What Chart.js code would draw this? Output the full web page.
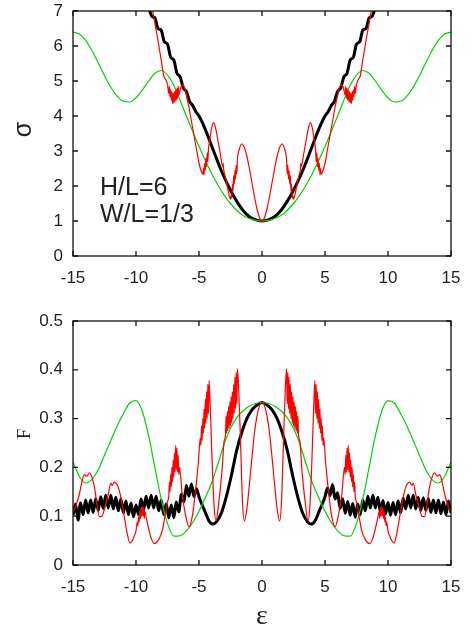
<!DOCTYPE html>
<html>
<head>
<meta charset="utf-8">
<script src="https://cdn.jsdelivr.net/npm/chart.js@4"></script>
<style>
  html, body { margin: 0; padding: 0; background: #fff; }
  #wrap { position: relative; width: 471px; height: 628px; }
  canvas { position: absolute; left: 0; }
  #sigmaChart { top: 0; }
  #forceChart { top: 300px; }
</style>
</head>
<body>
<div id="wrap">
  <canvas id="sigmaChart" width="471" height="300"></canvas>
  <canvas id="forceChart" width="471" height="328"></canvas>
</div>
<script>
// tick labels
const epsTicks = [-15, -10, -5, 0, 5, 10, 15];
const sigmaTicks = [0, 1, 2, 3, 4, 5, 6, 7];
const forceTicks = [0, 0.1, 0.2, 0.3, 0.4, 0.5];

// sigma vs epsilon, [eps, sigma]
const sigmaGreen = [
  [-15,6.40],[-14.5,6.34],[-14,6.16],[-13.5,5.87],[-13,5.52],[-12.5,5.15],[-12,4.82],[-11.5,4.57],
  [-11,4.42],[-10.5,4.40],[-10,4.52],[-9.5,4.74],[-9,5.00],[-8.5,5.22],[-8,5.30],[-7.5,5.17],
  [-7,4.88],[-6.5,4.45],[-6,4.00],[-5.5,3.56],[-5,3.13],[-4.5,2.73],[-4,2.36],[-3.5,2.03],
  [-3,1.74],[-2.5,1.50],[-2,1.30],[-1.5,1.16],[-1,1.07],[-0.5,1.02],[0,1.00],
  [0.5,1.02],[1,1.07],[1.5,1.16],[2,1.30],[2.5,1.50],[3,1.74],[3.5,2.03],[4,2.36],
  [4.5,2.73],[5,3.13],[5.5,3.56],[6,4.00],[6.5,4.45],[7,4.88],[7.5,5.17],[8,5.30],
  [8.5,5.22],[9,5.00],[9.5,4.74],[10,4.52],[10.5,4.40],[11,4.42],[11.5,4.57],[12,4.82],
  [12.5,5.15],[13,5.52],[13.5,5.87],[14,6.16],[14.5,6.34],[15,6.40]
];
const sigmaBlack = [
  [-9.5,7.50],[-9.25,7.20],[-9.0,7.10],[-8.75,6.85],[-8.5,6.80],[-8.25,6.50],[-8.0,6.45],[-7.75,6.12],
  [-7.5,6.05],[-7.25,5.68],[-7.0,5.60],[-6.75,5.22],[-6.5,5.12],[-6.25,4.80],[-6.0,4.70],[-5.75,4.42],
  [-5.5,4.30],[-5.25,4.12],[-5.0,4.00],[-4.5,3.62],[-4.0,3.15],[-3.5,2.68],[-3.0,2.25],[-2.5,1.88],
  [-2.0,1.56],[-1.5,1.30],[-1.0,1.12],[-0.5,1.03],[0,1.00],[0.5,1.03],[1.0,1.12],[1.5,1.30],
  [2.0,1.56],[2.5,1.88],[3.0,2.25],[3.5,2.68],[4.0,3.15],[4.5,3.62],[5.0,4.00],[5.25,4.12],
  [5.5,4.30],[5.75,4.42],[6.0,4.70],[6.25,4.80],[6.5,5.12],[6.75,5.22],[7.0,5.60],[7.25,5.68],
  [7.5,6.05],[7.75,6.12],[8.0,6.45],[8.25,6.50],[8.5,6.80],[8.75,6.85],[9.0,7.10],[9.25,7.20],[9.5,7.50]
];
const sigmaRed = [
  [-9.0,7.6],[-8.7,7.05],[-8.3,6.25],[-8.0,5.60],[-7.8,5.15],[-7.65,5.05],[-7.5,4.90],[-7.4,4.65],
  [-7.35,4.85],[-7.3,4.55],[-7.25,4.75],[-7.2,4.45],[-7.15,4.70],[-7.1,4.36],[-7.05,4.65],[-7.0,4.37],
  [-6.95,4.70],[-6.9,4.40],[-6.85,4.75],[-6.8,4.45],[-6.75,4.80],[-6.7,4.50],[-6.65,4.85],[-6.6,4.60],
  [-6.45,4.82],[-6.3,4.89],[-6.15,4.82],[-6.0,4.60],[-5.8,4.25],[-5.6,3.85],[-5.4,3.45],[-5.2,3.05],
  [-5.0,2.65],[-4.8,2.40],[-4.7,2.33],[-4.65,2.50],[-4.6,2.32],[-4.55,2.65],[-4.5,2.45],[-4.45,2.80],
  [-4.4,2.55],[-4.35,2.95],[-4.3,2.70],[-4.25,3.05],[-4.15,3.30],[-4.0,3.65],[-3.85,3.81],[-3.7,3.68],
  [-3.5,3.30],[-3.3,2.90],[-3.12,2.55],[-3.08,2.65],[-3.05,2.50],[-2.9,2.25],[-2.7,1.90],[-2.5,1.62],
  [-2.45,1.75],[-2.4,1.65],[-2.35,2.05],[-2.3,1.85],[-2.25,2.30],[-2.2,2.05],[-2.15,2.45],[-2.1,2.20],
  [-2.05,2.60],[-2.0,2.35],[-1.95,2.75],[-1.8,3.05],[-1.6,3.20],[-1.4,3.10],[-1.2,2.85],[-1.0,2.50],
  [-0.8,2.10],[-0.6,1.70],[-0.4,1.35],[-0.2,1.10],[0,1.00],
  [0.2,1.10],[0.4,1.35],[0.6,1.70],[0.8,2.10],[1.0,2.50],[1.2,2.85],[1.4,3.10],[1.6,3.20],
  [1.8,3.05],[1.95,2.75],[2.0,2.35],[2.05,2.60],[2.1,2.20],[2.15,2.45],[2.2,2.05],[2.25,2.30],
  [2.3,1.85],[2.35,2.05],[2.4,1.65],[2.45,1.75],[2.5,1.62],[2.7,1.90],[2.9,2.25],[3.05,2.50],
  [3.08,2.65],[3.12,2.55],[3.3,2.90],[3.5,3.30],[3.7,3.68],[3.85,3.81],[4.0,3.65],[4.15,3.30],
  [4.25,3.05],[4.3,2.70],[4.35,2.95],[4.4,2.55],[4.45,2.80],[4.5,2.45],[4.55,2.65],[4.6,2.32],
  [4.65,2.50],[4.7,2.33],[4.8,2.40],[5.0,2.65],[5.2,3.05],[5.4,3.45],[5.6,3.85],[5.8,4.25],
  [6.0,4.60],[6.15,4.82],[6.3,4.89],[6.45,4.82],[6.6,4.60],[6.65,4.85],[6.7,4.50],[6.75,4.80],
  [6.8,4.45],[6.85,4.75],[6.9,4.40],[6.95,4.70],[7.0,4.37],[7.05,4.65],[7.1,4.36],[7.15,4.70],
  [7.2,4.45],[7.25,4.75],[7.3,4.55],[7.35,4.85],[7.4,4.65],[7.5,4.90],[7.65,5.05],[7.8,5.15],
  [8.0,5.60],[8.3,6.25],[8.7,7.05],[9.0,7.6]
];

// F vs epsilon, [eps, F]
const forceGreen = [
  [-15,0.211],[-14.5,0.182],[-14,0.168],[-13.5,0.175],[-13,0.195],[-12.5,0.225],[-12,0.255],[-11.5,0.285],
  [-11,0.310],[-10.5,0.332],[-10,0.337],[-9.5,0.315],[-9,0.265],[-8.5,0.200],[-8,0.135],[-7.5,0.085],
  [-7,0.059],[-6.5,0.060],[-6,0.070],[-5.5,0.087],[-5,0.110],[-4.5,0.138],[-4,0.168],[-3.5,0.207],
  [-3,0.248],[-2.5,0.280],[-2,0.302],[-1.5,0.316],[-1,0.326],[-0.5,0.331],[0,0.333],
  [0.5,0.331],[1,0.326],[1.5,0.316],[2,0.302],[2.5,0.280],[3,0.248],[3.5,0.207],[4,0.168],
  [4.5,0.138],[5,0.110],[5.5,0.087],[6,0.070],[6.5,0.060],[7,0.059],[7.5,0.085],[8,0.135],
  [8.5,0.200],[9,0.265],[9.5,0.315],[10,0.337],[10.5,0.332],[11,0.310],[11.5,0.285],[12,0.255],
  [12.5,0.225],[13,0.195],[13.5,0.175],[14,0.168],[14.5,0.182],[15,0.211]
];
const forceBlack = [
  [-15.0,0.102],[-14.8,0.125],[-14.6,0.092],[-14.4,0.127],[-14.2,0.103],[-14.0,0.133],[-13.8,0.107],[-13.6,0.133],
  [-13.4,0.108],[-13.2,0.136],[-13.0,0.112],[-12.8,0.140],[-12.6,0.116],[-12.4,0.143],[-12.2,0.117],[-12.0,0.143],
  [-11.8,0.115],[-11.6,0.139],[-11.4,0.111],[-11.2,0.135],[-11.0,0.107],[-10.8,0.131],[-10.6,0.103],[-10.4,0.127],
  [-10.2,0.099],[-10.0,0.123],[-9.8,0.103],[-9.6,0.135],[-9.4,0.113],[-9.2,0.141],[-9.0,0.117],[-8.8,0.143],
  [-8.6,0.117],[-8.4,0.141],[-8.2,0.111],[-8.0,0.133],[-7.8,0.103],[-7.6,0.125],[-7.4,0.097],[-7.2,0.123],
  [-7.0,0.097],[-6.8,0.129],[-6.6,0.109],[-6.4,0.145],[-6.2,0.129],[-6.0,0.163],[-5.8,0.141],[-5.6,0.166],
  [-5.4,0.140],[-5.2,0.156],[-5.0,0.140],[-4.8,0.126],[-4.5,0.108],[-4.2,0.090],[-3.9,0.084],[-3.6,0.089],
  [-3.2,0.108],[-2.8,0.143],[-2.4,0.187],[-2.0,0.236],[-1.6,0.272],[-1.2,0.300],[-0.8,0.318],[-0.4,0.328],
  [0,0.333],
  [0.4,0.328],[0.8,0.318],[1.2,0.300],[1.6,0.272],[2.0,0.236],[2.4,0.187],[2.8,0.143],[3.2,0.108],
  [3.6,0.089],[3.9,0.084],[4.2,0.090],[4.5,0.108],[4.8,0.126],[5.0,0.140],[5.2,0.158],[5.4,0.142],
  [5.6,0.165],[5.8,0.135],[6.0,0.148],[6.2,0.116],[6.4,0.136],[6.6,0.106],[6.8,0.130],[7.0,0.102],
  [7.2,0.126],[7.4,0.098],[7.6,0.125],[7.8,0.103],[8.0,0.133],[8.2,0.111],[8.4,0.141],[8.6,0.117],
  [8.8,0.143],[9.0,0.117],[9.2,0.139],[9.4,0.109],[9.6,0.132],[9.8,0.104],[10.0,0.128],[10.2,0.102],
  [10.4,0.128],[10.6,0.103],[10.8,0.131],[11.0,0.107],[11.2,0.137],[11.4,0.115],[11.6,0.143],[11.8,0.117],
  [12.0,0.143],[12.2,0.115],[12.4,0.139],[12.6,0.112],[12.8,0.138],[13.0,0.112],[13.2,0.136],[13.4,0.108],
  [13.6,0.133],[13.8,0.107],[14.0,0.133],[14.2,0.105],[14.4,0.129],[14.6,0.103],[14.8,0.131],[15.0,0.107]
];
const forceRed = [
  [-15.0,0.110],[-14.8,0.119],[-14.5,0.145],[-14.25,0.175],[-14.1,0.185],[-13.9,0.182],[-13.7,0.189],[-13.5,0.180],
  [-13.3,0.160],[-13.1,0.125],[-12.9,0.099],[-12.7,0.100],[-12.5,0.115],[-12.2,0.145],[-12.0,0.168],[-11.9,0.163],
  [-11.72,0.170],[-11.5,0.165],[-11.3,0.150],[-11.0,0.110],[-10.7,0.065],[-10.48,0.045],[-10.3,0.050],[-10.2,0.055],
  [-10.1,0.062],[-10.0,0.070],[-9.9,0.088],[-9.85,0.080],[-9.8,0.098],[-9.75,0.088],[-9.7,0.110],[-9.65,0.095],
  [-9.6,0.115],[-9.55,0.100],[-9.5,0.120],[-9.45,0.100],[-9.4,0.118],[-9.35,0.095],[-9.3,0.110],[-9.2,0.098],
  [-9.0,0.075],[-8.8,0.055],[-8.55,0.044],[-8.2,0.052],[-7.9,0.072],[-7.7,0.100],[-7.5,0.130],[-7.4,0.140],
  [-7.35,0.170],[-7.3,0.150],[-7.25,0.185],[-7.2,0.160],[-7.15,0.200],[-7.1,0.170],[-7.05,0.215],[-7.0,0.180],
  [-6.95,0.230],[-6.9,0.190],[-6.85,0.245],[-6.8,0.195],[-6.75,0.240],[-6.7,0.190],[-6.65,0.225],[-6.6,0.185],
  [-6.55,0.200],[-6.33,0.144],[-6.05,0.100],[-5.8,0.078],[-5.53,0.100],[-5.27,0.153],[-5.05,0.210],[-4.9,0.260],
  [-4.85,0.245],[-4.8,0.285],[-4.75,0.255],[-4.7,0.300],[-4.65,0.270],[-4.6,0.320],[-4.55,0.280],[-4.5,0.340],
  [-4.45,0.290],[-4.4,0.355],[-4.35,0.300],[-4.3,0.370],[-4.25,0.310],[-4.2,0.378],[-4.1,0.320],[-3.97,0.221],
  [-3.8,0.120],[-3.65,0.091],[-3.44,0.126],[-3.17,0.194],[-3.0,0.255],[-2.9,0.265],[-2.85,0.305],[-2.8,0.270],
  [-2.75,0.315],[-2.7,0.275],[-2.65,0.325],[-2.6,0.280],[-2.55,0.335],[-2.5,0.285],[-2.45,0.345],[-2.4,0.290],
  [-2.35,0.355],[-2.3,0.300],[-2.25,0.370],[-2.2,0.310],[-2.15,0.385],[-2.1,0.320],[-2.05,0.395],[-2.0,0.330],
  [-1.95,0.402],[-1.85,0.360],[-1.7,0.250],[-1.55,0.130],[-1.4,0.090],[-1.2,0.115],[-1.0,0.165],[-0.8,0.220],
  [-0.6,0.270],[-0.4,0.305],[-0.2,0.326],[0,0.333],
  [0.2,0.326],[0.4,0.305],[0.6,0.270],[0.8,0.220],[1.0,0.165],[1.2,0.115],[1.4,0.090],[1.55,0.130],
  [1.7,0.250],[1.85,0.360],[1.95,0.402],[2.0,0.330],[2.05,0.395],[2.1,0.320],[2.15,0.385],[2.2,0.310],
  [2.25,0.370],[2.3,0.300],[2.35,0.355],[2.4,0.290],[2.45,0.345],[2.5,0.285],[2.55,0.335],[2.6,0.280],
  [2.65,0.325],[2.7,0.275],[2.75,0.315],[2.8,0.270],[2.85,0.305],[2.9,0.265],[3.0,0.255],[3.17,0.194],
  [3.44,0.126],[3.65,0.091],[3.8,0.120],[3.97,0.221],[4.1,0.320],[4.2,0.378],[4.25,0.310],[4.3,0.370],
  [4.35,0.300],[4.4,0.355],[4.45,0.290],[4.5,0.340],[4.55,0.280],[4.6,0.320],[4.65,0.270],[4.7,0.300],
  [4.75,0.255],[4.8,0.285],[4.85,0.245],[4.9,0.260],[5.05,0.210],[5.27,0.153],[5.53,0.100],[5.8,0.078],
  [6.05,0.100],[6.33,0.144],[6.55,0.200],[6.6,0.185],[6.65,0.225],[6.7,0.190],[6.75,0.240],[6.8,0.195],
  [6.85,0.245],[6.9,0.190],[6.95,0.230],[7.0,0.180],[7.05,0.215],[7.1,0.170],[7.15,0.200],[7.2,0.160],
  [7.25,0.185],[7.3,0.150],[7.35,0.170],[7.4,0.140],[7.5,0.130],[7.7,0.100],[7.9,0.072],[8.2,0.052],
  [8.55,0.044],[8.8,0.055],[9.0,0.075],[9.2,0.098],[9.3,0.110],[9.35,0.095],[9.4,0.118],[9.45,0.100],
  [9.5,0.120],[9.55,0.100],[9.6,0.115],[9.65,0.095],[9.7,0.110],[9.75,0.088],[9.8,0.098],[9.85,0.080],
  [9.9,0.088],[10.0,0.070],[10.1,0.062],[10.2,0.055],[10.3,0.050],[10.48,0.045],[10.7,0.065],[11.0,0.110],
  [11.3,0.150],[11.5,0.165],[11.72,0.170],[11.9,0.163],[12.0,0.168],[12.2,0.145],[12.5,0.115],[12.7,0.100],
  [12.9,0.099],[13.1,0.125],[13.3,0.160],[13.5,0.180],[13.7,0.189],[13.9,0.182],[14.1,0.185],[14.25,0.175],
  [14.5,0.145],[14.8,0.119],[15.0,0.110]
];

const RED = '#ff0000', GREEN = '#00d200', BLACK = '#000000';
const TEXT = '#222222';
const tickFont = { family: '"Liberation Sans", Arial, sans-serif', size: 17 };

// frame with inward ticks on all four sides, plus free text
const framePlugin = {
  id: 'frame',
  afterDatasetsDraw(chart, args, opts) {
    const { ctx, chartArea: a, scales: { x, y } } = chart;
    ctx.save();
    ctx.strokeStyle = '#111';
    ctx.lineWidth = 1.3;
    ctx.beginPath();
    x.ticks.forEach(t => {
      const px = x.getPixelForValue(t.value);
      ctx.moveTo(px, a.bottom); ctx.lineTo(px, a.bottom - 5);
      ctx.moveTo(px, a.top); ctx.lineTo(px, a.top + 5);
    });
    y.ticks.forEach(t => {
      const py = y.getPixelForValue(t.value);
      ctx.moveTo(a.left, py); ctx.lineTo(a.left + 5, py);
      ctx.moveTo(a.right, py); ctx.lineTo(a.right - 5, py);
    });
    ctx.stroke();
    ctx.strokeRect(a.left, a.top, a.right - a.left, a.bottom - a.top);

    ctx.fillStyle = TEXT;
    ctx.textBaseline = 'alphabetic';
    (opts.labels || []).forEach(l => {
      ctx.save();
      ctx.font = l.font;
      ctx.textAlign = l.align || 'left';
      ctx.translate(l.x, l.y);
      if (l.rotate) ctx.rotate(-Math.PI / 2);
      ctx.fillText(l.text, 0, 0);
      ctx.restore();
    });
    ctx.restore();
  }
};

function line(points, color, width) {
  return {
    data: points.map(p => ({ x: p[0], y: p[1] })),
    borderColor: color,
    borderWidth: width,
    pointRadius: 0,
    fill: false,
    cubicInterpolationMode: 'monotone',
    borderJoinStyle: 'round'
  };
}

function makeChart(id, datasets, yTicks, yMax, pad, xAxisHeight, labels) {
  return new Chart(document.getElementById(id), {
    type: 'line',
    data: { datasets },
    options: {
      responsive: false,
      animation: false,
      layout: { padding: pad },
      plugins: { legend: { display: false }, tooltip: { enabled: false }, frame: { labels } },
      scales: {
        x: {
          type: 'linear', min: -15, max: 15,
          grid: { display: false, drawTicks: false },
          border: { display: false },
          ticks: { padding: 12, color: TEXT, font: tickFont, maxRotation: 0 },
          afterBuildTicks: s => { s.ticks = epsTicks.map(v => ({ value: v })); },
          afterFit: s => { s.height = xAxisHeight; s.paddingLeft = 0; s.paddingRight = 0; }
        },
        y: {
          type: 'linear', min: 0, max: yMax,
          grid: { display: false, drawTicks: false },
          border: { display: false },
          ticks: { padding: 10, color: TEXT, font: tickFont },
          afterBuildTicks: s => { s.ticks = yTicks.map(v => ({ value: v })); },
          afterFit: s => { s.width = 73; s.paddingTop = 0; s.paddingBottom = 0; }
        }
      }
    },
    plugins: [framePlugin]
  });
}

const sansBig = '25px "Liberation Sans", Arial, sans-serif';

makeChart('sigmaChart', [
  line(sigmaRed, RED, 1.2),
  line(sigmaGreen, GREEN, 1.2),
  line(sigmaBlack, BLACK, 3)
], sigmaTicks, 7, { top: 11, right: 20, left: 0, bottom: 0 }, 44, [
  { text: 'σ', x: 30.5, y: 129.5, rotate: true, align: 'center', font: sansBig },
  { text: 'H/L=6', x: 100, y: 195, font: sansBig },
  { text: 'W/L=1/3', x: 100, y: 222, font: sansBig }
]);

makeChart('forceChart', [
  line(forceRed, RED, 1.2),
  line(forceGreen, GREEN, 1.2),
  line(forceBlack, BLACK, 3)
], forceTicks, 0.5, { top: 21, right: 20, left: 0, bottom: 0 }, 63, [
  { text: 'F', x: 30, y: 134, rotate: true, align: 'center', font: '19px "Liberation Serif", "Times New Roman", serif' },
  { text: 'ε', x: 262, y: 324, align: 'center', font: '28px "Liberation Serif", "Times New Roman", serif' }
]);
</script>
</body>
</html>
